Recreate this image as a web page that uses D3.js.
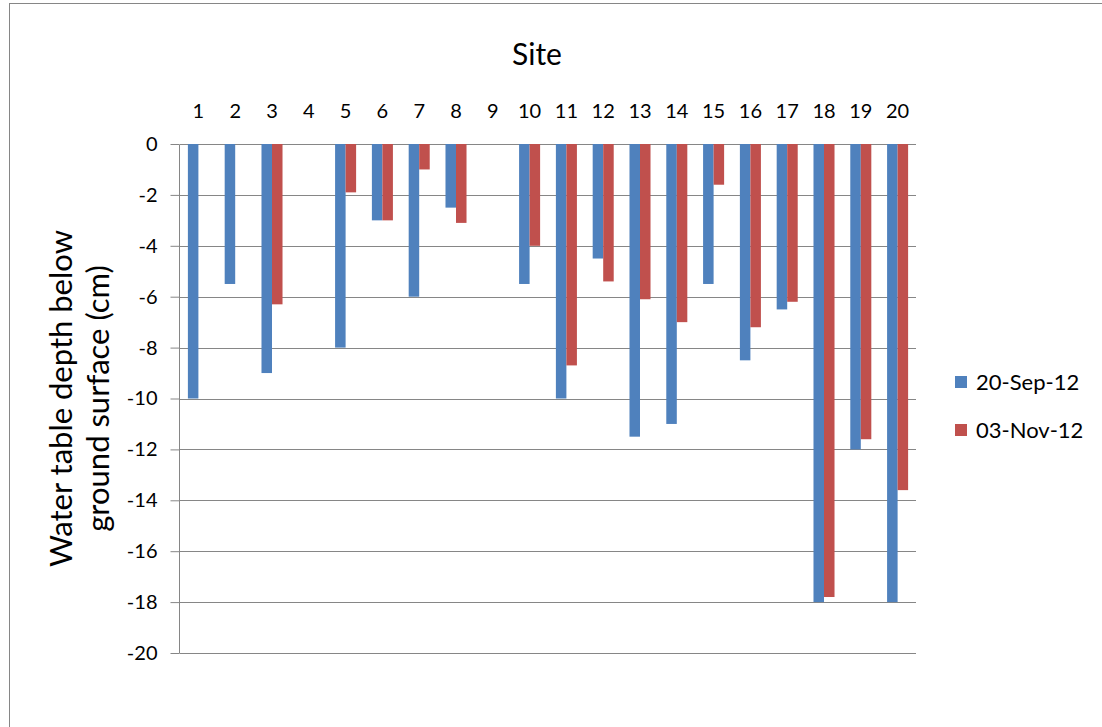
<!DOCTYPE html>
<html>
<head>
<meta charset="utf-8">
<script src="https://cdn.jsdelivr.net/npm/d3@7/dist/d3.min.js"></script>
<style>
    body { margin: 0; background: #fff; }
    svg { display: block; font-family: Lato, "Open Sans", sans-serif; }
    .tick line { stroke: #868686; }
    .axis path { stroke: #868686; }
</style>
</head>
<body>
<div id="chart"></div>
<script>
// sites along the top, water table depth (cm) for each date
const sites = ["1", "2", "3", "4", "5", "6", "7", "8", "9", "10",
    "11", "12", "13", "14", "15", "16", "17", "18", "19", "20"];
const sep12 = [-10, -5.5, -9, null, -8, -3, -6, -2.5, null, -5.5,
    -10, -4.5, -11.5, -11, -5.5, -8.5, -6.5, -18, -12, -18];
const nov12 = [null, null, -6.3, null, -1.9, -3, -1.0, -3.1, null, -4,
    -8.7, -5.4, -6.1, -7, -1.6, -7.2, -6.2, -17.8, -11.6, -13.6];
const seriesNames = ["20-Sep-12", "03-Nov-12"];
const colors = ["#4F81BD", "#C0504D"];
const yTicks = [0, -2, -4, -6, -8, -10, -12, -14, -16, -18, -20];

const W = 1102, H = 727;
const margin = {top: 144, right: 186, bottom: 74, left: 180};
const width = W - margin.left - margin.right;
const height = H - margin.top - margin.bottom;

const svg = d3.select("#chart").append("svg")
    .attr("width", W)
    .attr("height", H);

// outer chart border
svg.append("rect")
    .attr("x", 9.5).attr("y", 3.5)
    .attr("width", W + 10).attr("height", H + 10)
    .attr("fill", "#fff")
    .attr("stroke", "#868686");

const g = svg.append("g")
    .attr("transform", "translate(" + margin.left + "," + margin.top + ")");

const x = d3.scaleBand()
    .domain(sites)
    .range([0, width])
    .paddingInner(0.4286)
    .paddingOuter(0.2143);

const xSub = d3.scaleBand()
    .domain([0, 1])
    .range([0, x.bandwidth()]);

const y = d3.scaleLinear()
    .domain([-20, 0])
    .range([height, 0]);

// gridlines
g.append("g")
    .selectAll("line")
    .data(yTicks)
    .enter().append("line")
    .attr("x1", 0).attr("x2", width)
    .attr("y1", d => Math.round(y(d)) + 0.5)
    .attr("y2", d => Math.round(y(d)) + 0.5)
    .attr("stroke", "#868686");

// y axis (plain hyphen for negatives, like the original)
const axisY = d3.axisLeft(y)
    .tickValues(yTicks)
    .tickSize(9)
    .tickPadding(13)
    .tickFormat(d => String(d));

g.append("g")
    .attr("class", "axis")
    .attr("transform", "translate(-0.5,0)")
    .call(axisY)
    .call(s => s.select(".domain").attr("d", "M0,0.5V" + (height + 0.5)))
    .selectAll("text")
    .attr("font-size", 20)
    .attr("fill", "#000")
    .attr("font-family", "Lato, sans-serif");

// category labels on top
g.append("g")
    .selectAll("text")
    .data(sites)
    .enter().append("text")
    .attr("x", d => x(d) + x.bandwidth() / 2)
    .attr("y", -26)
    .attr("text-anchor", "middle")
    .attr("font-size", 20)
    .text(d => d);

// bars
const rows = sites.map((s, i) => ({site: s, vals: [sep12[i], nov12[i]]}));

const groups = g.selectAll(".site")
    .data(rows)
    .enter().append("g")
    .attr("class", "site")
    .attr("transform", d => "translate(" + x(d.site) + ",0)");

groups.selectAll("rect")
    .data(d => d.vals.map((v, k) => ({k: k, v: v})).filter(e => e.v !== null))
    .enter().append("rect")
    .attr("x", d => xSub(d.k))
    .attr("width", xSub.bandwidth())
    .attr("y", y(0))
    .attr("height", d => y(d.v) - y(0))
    .attr("fill", d => colors[d.k]);

// titles
svg.append("text")
    .attr("x", 537)
    .attr("y", 65)
    .attr("text-anchor", "middle")
    .attr("font-size", 30)
    .text("Site");

const yTitle = svg.append("text")
    .attr("transform", "translate(72," + (margin.top + height / 2) + ") rotate(-90)")
    .attr("text-anchor", "middle")
    .attr("font-size", 31);
yTitle.append("tspan").attr("x", 0).attr("y", 0).text("Water table depth below");
yTitle.append("tspan").attr("x", 0).attr("y", 37).text("ground surface (cm)");

// legend
const legend = svg.append("g")
    .selectAll("g")
    .data(seriesNames)
    .enter().append("g")
    .attr("transform", (d, i) => "translate(955," + (376 + i * 48) + ")");

legend.append("rect")
    .attr("width", 12)
    .attr("height", 12)
    .attr("fill", (d, i) => colors[i]);

legend.append("text")
    .attr("x", 21)
    .attr("y", 14)
    .attr("font-size", 22)
    .text(d => d);
</script>
</body>
</html>
